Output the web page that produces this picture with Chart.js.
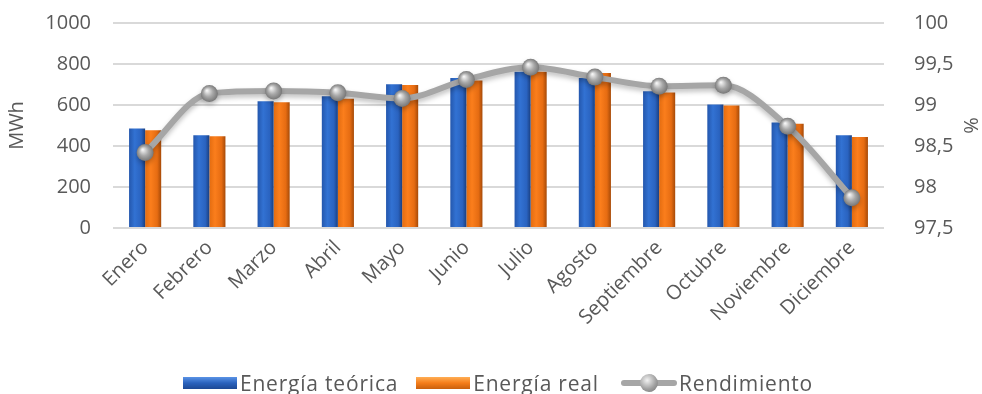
<!DOCTYPE html>
<html>
<head>
<meta charset="utf-8">
<script src="https://cdn.jsdelivr.net/npm/chart.js@4/dist/chart.umd.min.js"></script>
<style>
    html, body { margin: 0; padding: 0; background: #fff; }
    #wrap { position: relative; width: 982px; height: 394px; }
    #legend {
        position: absolute; left: 14px; right: 0; top: 369px;
        display: flex; justify-content: center; gap: 18px;
        font-family: "Open Sans", sans-serif; font-size: 21px; letter-spacing: 0.8px; color: #595959;
    }
    #legend .item { display: flex; align-items: center; }
    #legend .sw { display: inline-block; width: 54px; height: 12px; margin-right: 3px; }
    #legend .blue { background: linear-gradient(#5a93e6, #2a62bd 50%, #1c4894); }
    #legend .orange { background: linear-gradient(#ffae55, #f57d1a 50%, #c9600d); }
    #legend .line { position: relative; width: 56px; height: 18px; margin-right: 2px; margin-left: 4px; }
    #legend .line:before { content: ""; position: absolute; left: 0; right: 0; top: 6px; height: 6px; background: #a6a6a6; border-radius: 3px; }
    #legend .line:after { content: ""; position: absolute; left: 19px; top: 0; width: 18px; height: 18px; border-radius: 50%;
        background: radial-gradient(circle at 40% 35%, #f2f2f2, #a0a0a0 55%, #6f6f6f); }
</style>
</head>
<body>
<div id="wrap">
    <canvas id="chart" width="982" height="394"></canvas>
    <div id="legend">
        <span class="item"><span class="sw blue"></span>Energía teórica</span>
        <span class="item"><span class="sw orange"></span>Energía real</span>
        <span class="item"><span class="line"></span>Rendimiento</span>
    </div>
</div>
<script>
"use strict";

const months = ['Enero', 'Febrero', 'Marzo', 'Abril', 'Mayo', 'Junio', 'Julio', 'Agosto', 'Septiembre', 'Octubre', 'Noviembre', 'Diciembre'];
const energiaTeorica = [485, 452, 618, 643, 701, 732, 762, 732, 667, 603, 515, 452];
const energiaReal = [477, 447, 613, 631, 698, 720, 762, 756, 661, 597, 509, 444];
const rendimiento = [98.42, 99.14, 99.17, 99.15, 99.08, 99.31, 99.46, 99.34, 99.23, 99.24, 98.74, 97.87];

const FONT = '"Open Sans", sans-serif';
const TEXT = '#595959';
const GRID = '#d9d9d9';

// horizontal shading across each bar (dark edges, lighter body)
function barGradient(stops, side) {
    return function (context) {
        const chart = context.chart;
        const xs = chart.scales.x;
        if (!xs || context.type !== 'data') return stops[1][1];
        const center = xs.getPixelForValue(context.dataIndex);
        const w = xs.width / months.length * 0.5 / 2;
        if (!isFinite(center) || !isFinite(w) || w <= 0) return stops[1][1];
        const x0 = side === 0 ? center - w : center;
        const g = chart.ctx.createLinearGradient(x0, 0, x0 + w, 0);
        stops.forEach(s => g.addColorStop(s[0], s[1]));
        return g;
    };
}

function ballGradient(context) {
    const chart = context.chart;
    const xs = chart.scales.x, ys = chart.scales.y1;
    if (!xs || !ys || context.type !== 'data') return '#a0a0a0';
    const x = xs.getPixelForValue(context.dataIndex);
    const y = ys.getPixelForValue(rendimiento[context.dataIndex]);
    if (!isFinite(x) || !isFinite(y)) return '#a0a0a0';
    const g = chart.ctx.createRadialGradient(x - 2.5, y - 3, 0.5, x, y, 9);
    g.addColorStop(0, '#f4f4f4');
    g.addColorStop(0.5, '#a8a8a8');
    g.addColorStop(1, '#727272');
    return g;
}

// soft drop shadow under the line, like the original
const lineShadow = {
    id: 'lineShadow',
    beforeDatasetDraw(chart, args) {
        if (args.meta.type !== 'line') return;
        chart.ctx.save();
        chart.ctx.shadowColor = 'rgba(0,0,0,0.25)';
        chart.ctx.shadowBlur = 5;
        chart.ctx.shadowOffsetY = 3;
    },
    afterDatasetDraw(chart, args) {
        if (args.meta.type !== 'line') return;
        chart.ctx.restore();
    }
};

const ctx = document.getElementById('chart').getContext('2d');
const chart = new Chart(ctx, {
    data: {
        labels: months,
        datasets: [{
            type: 'line',
            label: 'Rendimiento',
            data: rendimiento,
            yAxisID: 'y1',
            borderColor: '#a6a6a6',
            borderWidth: 6,
            tension: 0.4,
            cubicInterpolationMode: 'monotone',
            pointRadius: 8.5,
            pointBorderWidth: 0,
            pointBackgroundColor: ballGradient,
            order: 0
        }, {
            type: 'bar',
            label: 'Energía teórica',
            data: energiaTeorica,
            yAxisID: 'y',
            backgroundColor: barGradient([[0, '#2457ad'], [0.35, '#3272d3'], [0.75, '#2a63c0'], [1, '#1a3f80']], 0),
            categoryPercentage: 0.5,
            barPercentage: 1,
            order: 1
        }, {
            type: 'bar',
            label: 'Energía real',
            data: energiaReal,
            yAxisID: 'y',
            backgroundColor: barGradient([[0, '#e36c10'], [0.35, '#fb7e1c'], [0.75, '#e66c12'], [1, '#a64a08']], 1),
            categoryPercentage: 0.5,
            barPercentage: 1,
            order: 1
        }]
    },
    plugins: [lineShadow],
    options: {
        responsive: false,
        animation: false,
        layout: {
            padding: { top: 0, left: 0, right: 0, bottom: 66 }
        },
        scales: {
            x: {
                grid: { display: false },
                border: { display: false },
                afterFit: s => { s.height = 100; },
                ticks: {
                    color: TEXT,
                    font: { family: FONT, size: 20 },
                    minRotation: 45,
                    maxRotation: 45,
                    autoSkip: false,
                    padding: 0
                }
            },
            y: {
                position: 'left',
                min: 0,
                max: 1000,
                grid: { color: GRID, lineWidth: 2, drawTicks: false },
                border: { display: false },
                afterFit: s => { s.width = 113; s.paddingTop = 23; s.paddingBottom = 12; },
                ticks: {
                    stepSize: 200,
                    color: TEXT,
                    font: { family: FONT, size: 20 },
                    padding: 22,
                    callback: v => String(v)
                },
                title: {
                    display: true,
                    text: 'MWh',
                    color: TEXT,
                    font: { family: FONT, size: 20 },
                    padding: 5
                }
            },
            y1: {
                position: 'right',
                min: 97.5,
                max: 100,
                grid: { display: false },
                border: { display: false },
                afterFit: s => { s.width = 98; s.paddingTop = 23; s.paddingBottom = 12; },
                ticks: {
                    stepSize: 0.5,
                    color: TEXT,
                    font: { family: FONT, size: 20 },
                    padding: 22,
                    callback: v => String(v).replace('.', ',')
                },
                title: {
                    display: true,
                    text: '%',
                    color: TEXT,
                    font: { family: FONT, size: 20 },
                    padding: 0
                }
            }
        },
        plugins: {
            legend: { display: false },
            tooltip: { enabled: false }
        }
    }
});
chart.update();
</script>
</body>
</html>
